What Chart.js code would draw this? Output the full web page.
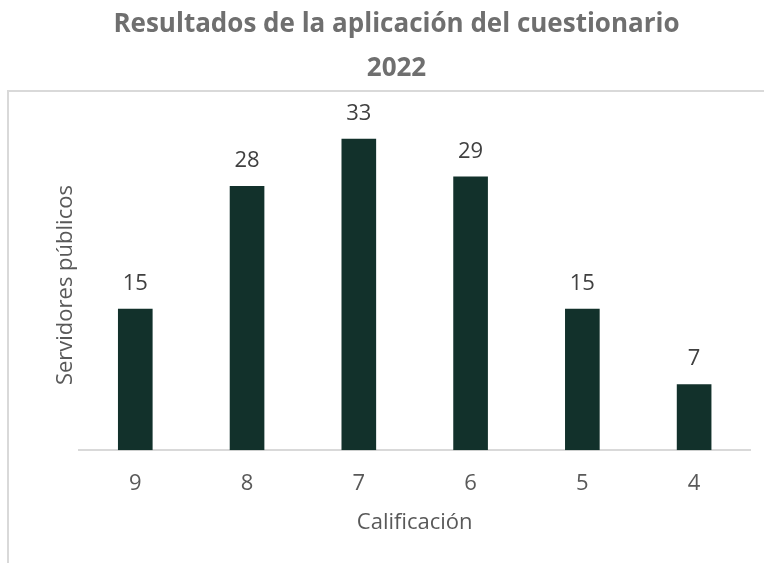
<!DOCTYPE html>
<html>
<head>
<meta charset="utf-8">
<script src="https://cdn.jsdelivr.net/npm/chart.js@4"></script>
<style>
  html, body { margin: 0; padding: 0; background: #fff; }
  #wrap { width: 764px; height: 563px; }
</style>
</head>
<body>
<div id="wrap"><canvas id="chart"></canvas></div>
<script>
// datos del gráfico
const categorias = ['9', '8', '7', '6', '5', '4'];
const servidores = [15, 28, 33, 29, 15, 7];
const tituloLineas = ['Resultados de la aplicación del cuestionario', '2022'];

const FONT = "'Open Sans', 'Noto Sans', sans-serif";

// marco gris parcial (arriba e izquierda)
const marco = {
    id: 'marco',
    beforeDraw(chart) {
        const ctx = chart.ctx;
        ctx.save();
        ctx.strokeStyle = '#d9d9d9';
        ctx.lineWidth = 2;
        ctx.beginPath();
        ctx.moveTo(8, 563);
        ctx.lineTo(8, 91);
        ctx.lineTo(764, 91);
        ctx.stroke();
        ctx.restore();
    }
};

// etiquetas de valor encima de cada barra
const etiquetas = {
    id: 'etiquetas',
    afterDatasetsDraw(chart) {
        const ctx = chart.ctx;
        const meta = chart.getDatasetMeta(0);
        ctx.save();
        ctx.fillStyle = '#404040';
        ctx.font = '22px ' + FONT;
        ctx.textAlign = 'center';
        ctx.textBaseline = 'middle';
        meta.data.forEach((bar, i) => {
            ctx.fillText(servidores[i], bar.x, bar.y - 25);
        });
        ctx.restore();
    }
};

new Chart(document.getElementById('chart'), {
    type: 'bar',
    data: {
        labels: categorias,
        datasets: [{
            data: servidores,
            backgroundColor: '#12312b',
            categoryPercentage: 1,
            barPercentage: 0.31
        }]
    },
    options: {
        responsive: true,
        maintainAspectRatio: false,
        animation: false,
        layout: { padding: { left: 43, right: 14, top: 0, bottom: 8 } },
        plugins: {
            legend: { display: false },
            tooltip: { enabled: false },
            title: {
                display: true,
                text: tituloLineas,
                color: '#6f6f6f',
                font: { family: FONT, size: 26, weight: 'bold', lineHeight: '44px' },
                padding: { top: 3, bottom: 29 }
            }
        },
        scales: {
            x: {
                grid: { display: false, drawTicks: false },
                border: { color: '#d9d9d9', width: 2 },
                ticks: { color: '#595959', font: { family: FONT, size: 22 }, padding: 20 },
                title: {
                    display: true,
                    text: 'Calificación',
                    color: '#595959',
                    font: { family: FONT, size: 22 },
                    padding: { top: -7, bottom: 19 }
                }
            },
            y: {
                min: 0,
                max: 35,
                grid: { display: false },
                border: { display: false },
                ticks: { display: false },
                title: {
                    display: true,
                    text: 'Servidores públicos',
                    color: '#595959',
                    font: { family: FONT, size: 22 },
                    padding: { top: 10, bottom: -8 }
                }
            }
        }
    },
    plugins: [marco, etiquetas]
});
</script>
</body>
</html>
